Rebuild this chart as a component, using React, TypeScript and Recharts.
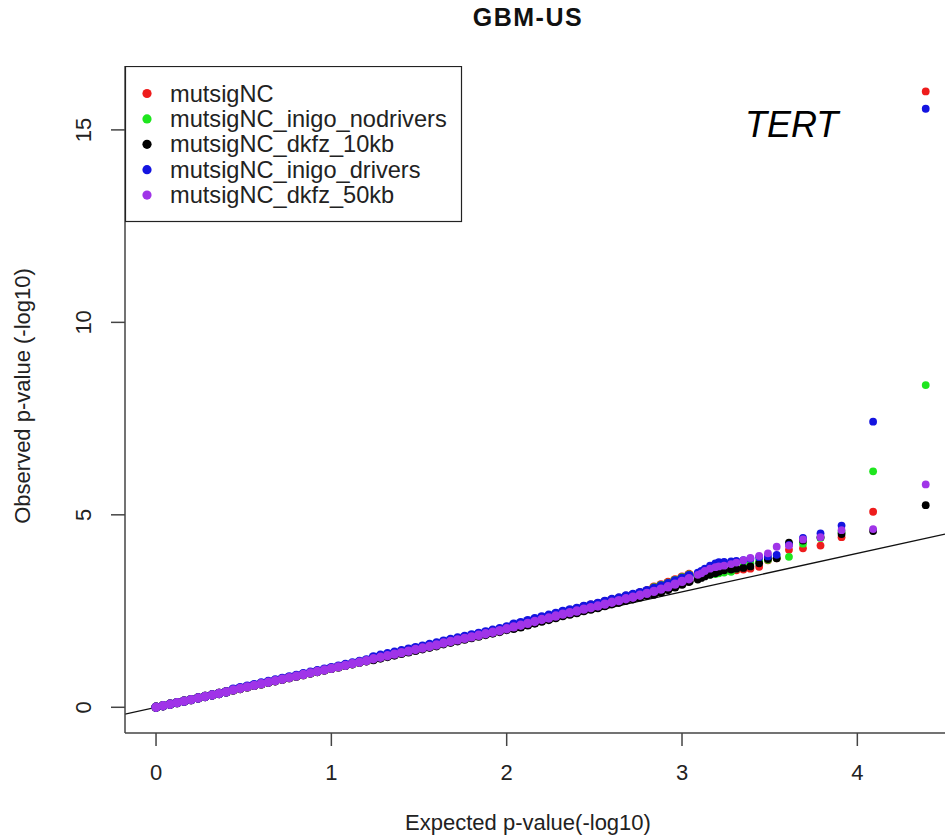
import { ScatterChart, Scatter, XAxis, YAxis, ReferenceLine, Legend } from 'recharts'

const font = '"Liberation Sans", Arial, Helvetica, sans-serif'

const seriesNames = [
  'mutsigNC',
  'mutsigNC_inigo_nodrivers',
  'mutsigNC_dkfz_10kb',
  'mutsigNC_inigo_drivers',
  'mutsigNC_dkfz_50kb',
]
const seriesColors = ['#ee1c1c', '#1ee61e', '#000000', '#1414e0', '#a034e8']

const xTicks = [0, 1, 2, 3, 4]
const yTicks = [0, 5, 10, 15]
const xDomain = [-0.177, 4.5]
const yDomain = [-0.668, 16.66]

// expected -log10(p), dense part of the cloud
const bandX = [
  0, 0.04, 0.08, 0.12, 0.16, 0.2, 0.24, 0.28, 0.32, 0.36, 0.4,
  0.44, 0.48, 0.52, 0.56, 0.6, 0.64, 0.68, 0.72, 0.76, 0.8, 0.84, 0.88, 0.92, 0.96, 1.0, 1.04, 1.08, 1.12, 1.16, 1.2,
  1.24, 1.28, 1.32, 1.36, 1.4, 1.44, 1.48, 1.52, 1.56, 1.6, 1.64, 1.68, 1.72, 1.76, 1.8, 1.84, 1.88, 1.92, 1.96, 2.0,
  2.04, 2.08, 2.12, 2.16, 2.2, 2.24, 2.28, 2.32, 2.36, 2.4, 2.44, 2.48, 2.52, 2.56, 2.6, 2.64, 2.68, 2.72, 2.76, 2.8,
  2.84, 2.88, 2.92, 2.96, 3.0, 3.04,
]
// expected -log10(p), top ranked genes (rank 20 .. 1)
const tailX = [
  3.09, 3.11, 3.13, 3.16, 3.19, 3.21, 3.24, 3.28, 3.31, 3.35,
  3.39, 3.44, 3.49, 3.54, 3.61, 3.69, 3.79, 3.91, 4.09, 4.39,
]

const redBand = [
  0, 0.04, 0.08, 0.12, 0.16, 0.2, 0.24, 0.28, 0.32, 0.36, 0.4,
  0.45, 0.49, 0.53, 0.57, 0.61, 0.65, 0.69, 0.73, 0.77, 0.81, 0.85, 0.89, 0.93, 0.97, 1.01, 1.05, 1.09, 1.13, 1.17, 1.21,
  1.28, 1.32, 1.36, 1.4, 1.44, 1.48, 1.52, 1.56, 1.6, 1.64, 1.69, 1.73, 1.77, 1.81, 1.85, 1.89, 1.93, 1.97, 2.01, 2.06,
  2.11, 2.15, 2.2, 2.25, 2.3, 2.34, 2.39, 2.44, 2.48, 2.52, 2.61, 2.65, 2.69, 2.74, 2.79, 2.83, 2.88, 2.92, 2.97, 3.02,
  3.12, 3.18, 3.24, 3.31, 3.38, 3.45,
]
const redTail = [
  3.45, 3.46, 3.47, 3.48, 3.49, 3.5, 3.52, 3.54, 3.56, 3.58,
  3.6, 3.65, 3.82, 3.87, 4.09, 4.13, 4.2, 4.42, 5.08, 16.0,
]

const greenBand = [
  0, 0.04, 0.08, 0.12, 0.16, 0.2, 0.24, 0.28, 0.32, 0.36, 0.4,
  0.45, 0.49, 0.53, 0.57, 0.61, 0.65, 0.69, 0.73, 0.77, 0.81, 0.85, 0.89, 0.93, 0.97, 1.01, 1.05, 1.09, 1.13, 1.17, 1.21,
  1.27, 1.31, 1.35, 1.39, 1.43, 1.47, 1.51, 1.55, 1.59, 1.63, 1.68, 1.72, 1.76, 1.8, 1.84, 1.88, 1.92, 1.96, 2.0, 2.05,
  2.1, 2.14, 2.19, 2.24, 2.29, 2.33, 2.38, 2.43, 2.47, 2.51, 2.6, 2.64, 2.68, 2.73, 2.78, 2.82, 2.87, 2.91, 2.96, 3.01,
  3.1, 3.16, 3.22, 3.29, 3.36, 3.43,
]
const greenTail = [
  3.42, 3.43, 3.44, 3.45, 3.46, 3.48, 3.5, 3.52, 3.6, 3.66,
  3.74, 3.8, 3.83, 3.88, 3.91, 4.25, 4.4, 4.55, 6.13, 8.37,
]

const blackBand = [
  0, 0.04, 0.08, 0.12, 0.16, 0.2, 0.24, 0.28, 0.32, 0.36, 0.4,
  0.45, 0.49, 0.53, 0.57, 0.61, 0.65, 0.69, 0.73, 0.77, 0.81, 0.85, 0.89, 0.93, 0.97, 1.01, 1.05, 1.09, 1.13, 1.17, 1.21,
  1.24, 1.28, 1.32, 1.36, 1.4, 1.44, 1.48, 1.52, 1.56, 1.6, 1.65, 1.69, 1.73, 1.77, 1.81, 1.85, 1.89, 1.93, 1.97, 2.02,
  2.05, 2.09, 2.14, 2.19, 2.24, 2.28, 2.33, 2.38, 2.42, 2.46, 2.51, 2.55, 2.59, 2.64, 2.69, 2.73, 2.78, 2.82, 2.87, 2.92,
  2.94, 3.0, 3.06, 3.13, 3.2, 3.27,
]
const blackTail = [
  3.32, 3.36, 3.4, 3.44, 3.48, 3.52, 3.56, 3.58, 3.6, 3.62,
  3.66, 3.74, 3.85, 3.87, 4.28, 4.33, 4.42, 4.5, 4.58, 5.25,
]

const blueBand = [
  0, 0.04, 0.08, 0.12, 0.16, 0.2, 0.24, 0.28, 0.32, 0.36, 0.4,
  0.47, 0.51, 0.55, 0.59, 0.63, 0.67, 0.71, 0.75, 0.79, 0.83, 0.87, 0.91, 0.95, 0.99, 1.03, 1.07, 1.11, 1.15, 1.19, 1.23,
  1.31, 1.35, 1.39, 1.43, 1.47, 1.51, 1.55, 1.59, 1.63, 1.67, 1.72, 1.76, 1.8, 1.84, 1.88, 1.92, 1.96, 2.0, 2.04, 2.09,
  2.16, 2.2, 2.25, 2.3, 2.35, 2.39, 2.44, 2.49, 2.53, 2.57, 2.62, 2.66, 2.7, 2.75, 2.8, 2.84, 2.89, 2.93, 2.98, 3.03,
  3.09, 3.15, 3.21, 3.28, 3.35, 3.42,
]
const blueTail = [
  3.5, 3.54, 3.6, 3.68, 3.74, 3.77, 3.78, 3.79, 3.8, 3.82,
  3.86, 3.9, 3.92, 3.96, 4.22, 4.4, 4.52, 4.72, 7.42, 15.55,
]

const purpleBand = [
  0, 0.04, 0.08, 0.12, 0.16, 0.2, 0.24, 0.28, 0.32, 0.36, 0.4,
  0.45, 0.49, 0.53, 0.57, 0.61, 0.65, 0.69, 0.73, 0.77, 0.81, 0.85, 0.89, 0.93, 0.97, 1.01, 1.05, 1.09, 1.13, 1.17, 1.21,
  1.26, 1.3, 1.34, 1.38, 1.42, 1.46, 1.5, 1.54, 1.58, 1.62, 1.67, 1.71, 1.75, 1.79, 1.83, 1.87, 1.91, 1.95, 1.99, 2.04,
  2.09, 2.13, 2.18, 2.23, 2.28, 2.32, 2.37, 2.42, 2.46, 2.5, 2.55, 2.59, 2.63, 2.68, 2.73, 2.77, 2.82, 2.86, 2.91, 2.96,
  3.01, 3.07, 3.13, 3.2, 3.27, 3.34,
]
const purpleTail = [
  3.44, 3.48, 3.54, 3.6, 3.64, 3.66, 3.68, 3.72, 3.76, 3.82,
  3.88, 3.93, 4.0, 4.17, 4.2, 4.36, 4.42, 4.6, 4.63, 5.79,
]

// y = x reference
const identityLine = [
  { x: -0.177, y: -0.177 },
  { x: 4.5, y: 4.5 },
]

const toPoints = (band: number[], tail: number[]) => [
  ...bandX.map((x, i) => ({ x, y: band[i], dense: true })),
  ...tailX.map((x, i) => ({ x, y: tail[i], dense: false })),
]

const seriesData = [
  toPoints(redBand, redTail),
  toPoints(greenBand, greenTail),
  toPoints(blackBand, blackTail),
  toPoints(blueBand, blueTail),
  toPoints(purpleBand, purpleTail),
]

const axisStroke = { stroke: '#444', strokeWidth: 1.5 }

function XTick(props: any) {
  const { x, y, payload } = props
  return (
    <text x={x} y={y + 34} textAnchor="middle" fontSize={22} fill="#222" fontFamily={font}>
      {payload.value}
    </text>
  )
}

function YTick(props: any) {
  const { x, y, payload } = props
  return (
    <text
      x={x}
      y={y}
      transform={`rotate(-90 ${x} ${y})`}
      textAnchor="middle"
      fontSize={22}
      fill="#222"
      fontFamily={font}
    >
      {payload.value}
    </text>
  )
}

function LegendBox(props: any) {
  // keep the plotting order, recharts sorts by name otherwise
  const items = [...(props.payload || [])].sort(
    (a: any, b: any) => seriesNames.indexOf(a.value) - seriesNames.indexOf(b.value)
  )
  return (
    <svg width={338} height={157} style={{ display: 'block' }}>
      <rect x={0.5} y={0.5} width={336} height={155} fill="#fff" stroke="#222" strokeWidth={1.2} />
      {items.map((item: any, i: number) => (
        <g key={item.value}>
          <circle cx={22} cy={27.5 + i * 25.4} r={4.6} fill={item.color} />
          <text x={45} y={35.5 + i * 25.4} fontSize={23.6} fill="#222" fontFamily={font}>
            {item.value}
          </text>
        </g>
      ))}
    </svg>
  )
}

export default function App() {
  return (
    <div style={{ position: 'absolute', left: 0, top: 0, width: 945, height: 836, background: '#fff', fontFamily: font }}>
      <ScatterChart width={945} height={836} margin={{ top: 66, right: 0, bottom: 0, left: 0 }}>
        <XAxis
          dataKey="x"
          type="number"
          domain={xDomain}
          ticks={xTicks}
          allowDataOverflow
          height={103}
          tickSize={13}
          tickMargin={0}
          axisLine={axisStroke}
          tickLine={axisStroke}
          tick={<XTick />}
        />
        <XAxis
          xAxisId="top"
          orientation="top"
          type="number"
          domain={xDomain}
          allowDataOverflow
          height={0}
          tick={false}
          tickLine={false}
          axisLine={axisStroke}
        />
        <YAxis
          dataKey="y"
          type="number"
          domain={yDomain}
          ticks={yTicks}
          allowDataOverflow
          width={125}
          tickSize={14}
          tickMargin={20}
          axisLine={axisStroke}
          tickLine={axisStroke}
          tick={<YTick />}
        />
        <Legend
          layout="vertical"
          align="center"
          verticalAlign="middle"
          content={<LegendBox />}
          wrapperStyle={{ left: 125, top: 66, width: 338, height: 157 }}
        />
        {seriesData.map((data, i) => (
          <Scatter
            key={seriesNames[i]}
            name={seriesNames[i]}
            data={data}
            fill={seriesColors[i]}
            isAnimationActive={false}
            shape={(p: any) => (
              <circle cx={p.cx} cy={p.cy} r={p.payload && p.payload.dense ? 4.7 : 3.9} fill={seriesColors[i]} />
            )}
          />
        ))}
        <ReferenceLine segment={identityLine} stroke="#111" strokeWidth={1.3} ifOverflow="hidden" />
      </ScatterChart>
      <svg
        width={945}
        height={836}
        style={{ position: 'absolute', left: 0, top: 0, pointerEvents: 'none' }}
      >
        <text x={528} y={26} textAnchor="middle" fontSize={25} fontWeight="bold" letterSpacing={1.5} fill="#111" fontFamily={font}>
          GBM-US
        </text>
        <text x={528} y={830} textAnchor="middle" fontSize={22} fill="#222" fontFamily={font}>
          Expected p-value(-log10)
        </text>
        <text x={30} y={396} transform="rotate(-90 30 396)" textAnchor="middle" fontSize={22} fill="#222" fontFamily={font}>
          Observed p-value (-log10)
        </text>
        <text x={745} y={137} fontSize={36} fontStyle="italic" fill="#000" fontFamily={font}>
          TERT
        </text>
      </svg>
    </div>
  )
}
